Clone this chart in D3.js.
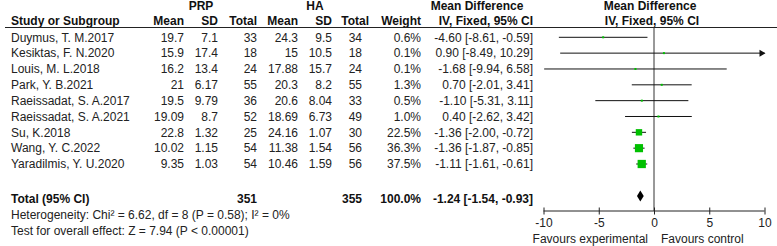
<!DOCTYPE html>
<html>
<head>
<meta charset="utf-8">
<script src="https://cdn.jsdelivr.net/npm/d3@7"></script>
<style>
  body { margin: 0; background: #fff; }
  svg { font-family: "Liberation Sans", Arial, sans-serif; font-size: 12px; }
</style>
</head>
<body>
<svg id="chart"></svg>
<script>
// study data
const studies = ["Duymus, T. M.2017", "Kesiktas, F. N.2020", "Louis, M. L.2018", "Park, Y. B.2021",
  "Raeissadat, S. A.2017", "Raeissadat, S. A.2021", "Su, K.2018", "Wang, Y. C.2022", "Yaradilmis, Y. U.2020"];
const prpMean = ["19.7", "15.9", "16.2", "21", "19.5", "19.09", "22.8", "10.02", "9.35"];
const prpSD = ["7.1", "17.4", "13.4", "6.17", "9.79", "8.7", "1.32", "1.15", "1.03"];
const prpTotal = [33, 18, 24, 55, 36, 52, 25, 54, 54];
const haMean = ["24.3", "15", "17.88", "20.3", "20.6", "18.69", "24.16", "11.38", "10.46"];
const haSD = ["9.5", "10.5", "15.7", "8.2", "8.04", "6.73", "1.07", "1.54", "1.59"];
const haTotal = [34, 18, 24, 55, 33, 49, 30, 56, 56];
const weights = [0.6, 0.1, 0.1, 1.3, 0.5, 1.0, 22.5, 36.3, 37.5];
const md = [-4.60, 0.90, -1.68, 0.70, -1.10, 0.40, -1.36, -1.36, -1.11];
const lower = [-8.61, -8.49, -9.94, -2.01, -5.31, -2.62, -2.00, -1.87, -1.61];
const upper = [-0.59, 10.29, 6.58, 3.41, 3.11, 3.42, -0.72, -0.85, -0.61];

const total = {label: "Total (95% CI)", prp: 351, ha: 355, weight: "100.0%", md: -1.24, lower: -1.54, upper: -0.93};
const axisTicks = [-10, -5, 0, 5, 10];
const footnotes = ["Heterogeneity: Chi\u00b2 = 6.62, df = 8 (P = 0.58); I\u00b2 = 0%",
  "Test for overall effect: Z = 7.94 (P < 0.00001)"];

const width = 777, height = 246;
const svg = d3.select("#chart").attr("width", width).attr("height", height);

// plain hyphen minus like the original, not the unicode one d3 uses
const fmt = v => v.toFixed(2);
const ci = (m, l, u) => `${fmt(m)} [${fmt(l)}, ${fmt(u)}]`;

// scales
const x = d3.scaleLinear().domain([-10, 10]).range([543.5, 764.5]);
const y = d3.scalePoint().domain(d3.range(studies.length)).range([37.3, 164]);
const totalY = 196, axisY = 211;
const green = "#00c000";

// columns: right edges of the table
const cols = {prpMean: 184, prpSD: 218, prpTotal: 257, haMean: 298, haSD: 332, haTotal: 362, weight: 421, ci: 533};

// headers
const head = svg.append("g").attr("font-weight", "bold").attr("fill", "#111");
head.append("text").attr("x", 201).attr("y", 9.5).attr("text-anchor", "middle").text("PRP");
head.append("text").attr("x", 315).attr("y", 9.5).attr("text-anchor", "middle").text("HA");
head.append("text").attr("x", 477).attr("y", 9.5).attr("text-anchor", "middle").text("Mean Difference");
head.append("text").attr("x", 650).attr("y", 9.5).attr("text-anchor", "middle").text("Mean Difference");
head.append("text").attr("x", 11).attr("y", 24.5).text("Study or Subgroup");
[["Mean", cols.prpMean], ["SD", cols.prpSD], ["Total", cols.prpTotal], ["Mean", cols.haMean],
 ["SD", cols.haSD], ["Total", 369], ["Weight", cols.weight], ["IV, Fixed, 95% CI", cols.ci]]
  .forEach(([t, cx]) => head.append("text").attr("x", cx).attr("y", 24.5).attr("text-anchor", "end").text(t));
head.append("text").attr("x", 652).attr("y", 24.5).attr("text-anchor", "middle").text("IV, Fixed, 95% CI");

svg.append("line").attr("x1", 5).attr("x2", width).attr("y1", 27.5).attr("y2", 27.5)
    .attr("stroke", "#222").attr("stroke-width", 1);

// study rows
const rows = svg.append("g").attr("fill", "#222");
studies.forEach((s, i) => {
  const by = y(i) + 4.3;
  rows.append("text").attr("x", 11).attr("y", by).text(s);
  [[prpMean[i], cols.prpMean], [prpSD[i], cols.prpSD], [prpTotal[i], cols.prpTotal],
   [haMean[i], cols.haMean], [haSD[i], cols.haSD], [haTotal[i], cols.haTotal],
   [weights[i].toFixed(1) + "%", cols.weight], [ci(md[i], lower[i], upper[i]), cols.ci]]
    .forEach(([t, cx]) => rows.append("text").attr("x", cx).attr("y", by).attr("text-anchor", "end").text(t));
});

// total row
const totBase = 202.5;
const tot = svg.append("g").attr("font-weight", "bold").attr("fill", "#111");
tot.append("text").attr("x", 11).attr("y", totBase).text(total.label);
tot.append("text").attr("x", cols.prpTotal).attr("y", totBase).attr("text-anchor", "end").text(total.prp);
tot.append("text").attr("x", cols.haTotal).attr("y", totBase).attr("text-anchor", "end").text(total.ha);
tot.append("text").attr("x", cols.weight).attr("y", totBase).attr("text-anchor", "end").text(total.weight);
tot.append("text").attr("x", cols.ci).attr("y", totBase).attr("text-anchor", "end")
    .text(ci(total.md, total.lower, total.upper));

footnotes.forEach((t, i) => svg.append("text").attr("x", 11).attr("y", 219 + i * 16)
    .attr("fill", "#222").text(t));

// plot: zero line
svg.append("line").attr("x1", x(0)).attr("x2", x(0)).attr("y1", 27.5).attr("y2", axisY)
    .attr("stroke", "#333").attr("stroke-width", 1);

// confidence intervals
const plot = svg.append("g");
studies.forEach((s, i) => {
  const l = Math.max(lower[i], -10), u = Math.min(upper[i], 10);
  plot.append("line").attr("x1", x(l)).attr("x2", x(u)).attr("y1", y(i)).attr("y2", y(i))
      .attr("stroke", "#111").attr("stroke-width", 1);
  if (upper[i] > 10) {
    const ax = x(10);
    plot.append("path").attr("d", `M${ax - 5},${y(i) - 3.5}L${ax + 1},${y(i)}L${ax - 5},${y(i) + 3.5}Z`)
        .attr("fill", "#111");
  }
  const side = Math.max(2, 1.35 * Math.sqrt(weights[i]));
  plot.append("rect").attr("x", x(md[i]) - side / 2).attr("y", y(i) - side / 2)
      .attr("width", side).attr("height", side).attr("fill", green);
});

// pooled diamond
plot.append("path")
    .attr("d", `M${x(total.lower)},${totalY}L${x(total.md)},${totalY - 5.5}L${x(total.upper)},${totalY}L${x(total.md)},${totalY + 5.5}Z`)
    .attr("fill", "#000");

// x axis
const axis = svg.append("g").attr("transform", `translate(0,${axisY})`)
    .call(d3.axisBottom(x).tickValues(axisTicks).tickSize(3.5).tickPadding(4).tickFormat(d => String(d)));
axis.select(".domain").attr("d", `M${x(-10)},0H${x(10)}`).attr("stroke", "#222");
axis.selectAll(".tick line").attr("y1", -3.5).attr("stroke", "#222");
axis.selectAll(".tick text").attr("font-size", 12).attr("font-family", "Liberation Sans, Arial, sans-serif")
    .attr("fill", "#222");

svg.append("text").attr("x", x(0) - 6).attr("y", 242.5).attr("text-anchor", "end").attr("fill", "#222")
    .text("Favours experimental");
svg.append("text").attr("x", x(0) + 7).attr("y", 242.5).attr("fill", "#222").text("Favours control");
</script>
</body>
</html>
